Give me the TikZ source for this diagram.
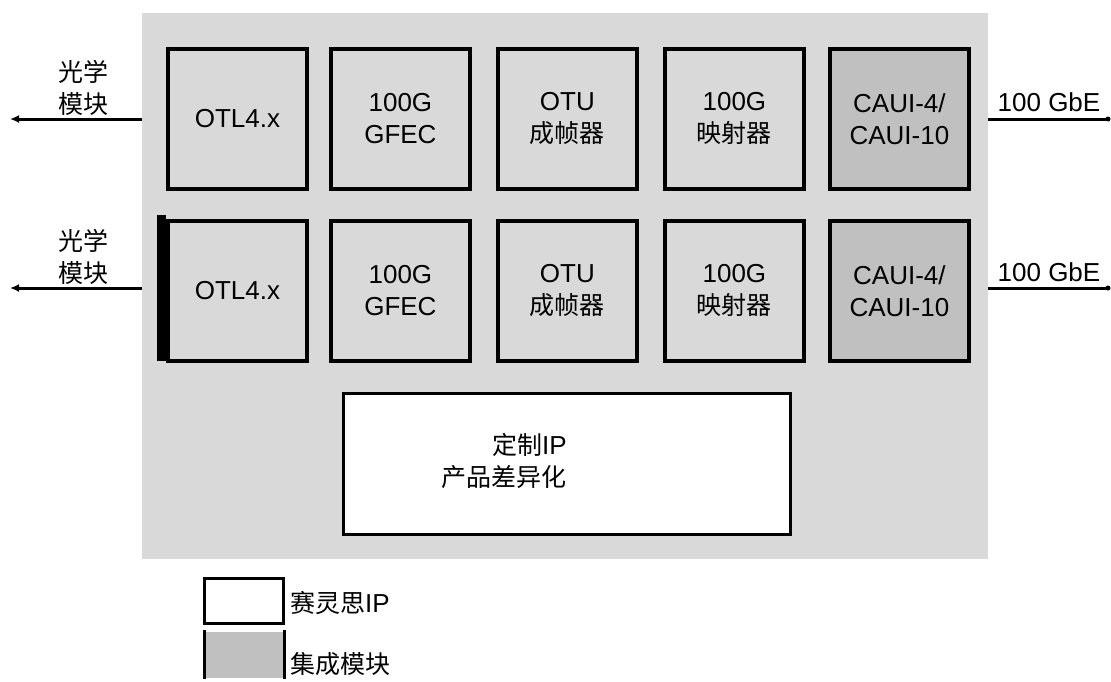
\documentclass[tikz,border=0pt]{standalone}
\usepackage{fontspec}
\setmainfont{Liberation Sans}
\newfontfamily\cjk{Noto Sans CJK SC}
\usetikzlibrary{arrows.meta}
\definecolor{bggray}{HTML}{D9D9D9}
\definecolor{ipgray}{HTML}{C0C0C0}
\tikzset{
  blk/.style={draw=black, line width=3.8pt, fill=bggray, minimum width=139pt, minimum height=140pt, inner sep=0pt, align=center, font=\fontsize{26}{32}\selectfont, anchor=north west},
  intblk/.style={blk, fill=ipgray},
  lbl/.style={font=\fontsize{26}{32}\selectfont, align=center, inner sep=0pt},
  cjklbl/.style={lbl, font=\cjk\fontsize{25}{32}\selectfont},
  link/.style={line width=3pt},
}
\begin{document}
\begin{tikzpicture}[x=1pt,y=-1pt]
\useasboundingbox (0,0) rectangle (1111,681);
\fill[bggray] (142,13) rectangle (988,559);
% row 1
\node[blk] (a1) at (166,47) {OTL4.x};
\node[blk] (b1) at (329,47) {100G\\GFEC};
\node[blk] (c1) at (496,47) {OTU\\{\cjk\fontsize{25}{32}\selectfont 成帧器}};
\node[blk] (d1) at (663,47) {100G\\{\cjk\fontsize{25}{32}\selectfont 映射器}};
\node[intblk] (e1) at (828,47) {CAUI-4/\\CAUI-10};
% row 2
\node[blk] (a2) at (166,219) {OTL4.x};
\node[blk] (b2) at (329,219) {100G\\GFEC};
\node[blk] (c2) at (496,219) {OTU\\{\cjk\fontsize{25}{32}\selectfont 成帧器}};
\node[blk] (d2) at (663,219) {100G\\{\cjk\fontsize{25}{32}\selectfont 映射器}};
\node[intblk] (e2) at (828,219) {CAUI-4/\\CAUI-10};
\fill[black] (157,215.1) rectangle (166,360.9);
% custom IP box
\node[draw=black, line width=3pt, fill=white, minimum width=447pt, minimum height=141pt, anchor=north west, inner sep=0pt] (cust) at (342,392) {};
\node[lbl, align=right, anchor=east] (custtxt) at (567,461) {{\cjk\fontsize{25}{32}\selectfont 定制}IP\\{\cjk\fontsize{25}{32}\selectfont 产品差异化}};
% left arrows and labels
\coordinate (l1s) at (142,119);
\coordinate (l1e) at (10,119);
\coordinate (l2s) at (142,288);
\coordinate (l2e) at (10,288);
\draw[link, -{Latex[length=9pt,width=8pt]}] (l1s) -- (l1e);
\draw[link, -{Latex[length=9pt,width=8pt]}] (l2s) -- (l2e);
\node[cjklbl] (opt1) at (83,88) {光学\\模块};
\node[cjklbl] (opt2) at (83,257) {光学\\模块};
% right lines
\coordinate (r1s) at (988,119);
\coordinate (r2s) at (988,288);
\coordinate (r1e) at (1108,119);
\coordinate (r2e) at (1108,288);
\draw[link] (r1s) -- (r1e);
\draw[link] (r2s) -- (r2e);
\fill (r1e) circle (2.5);
\fill (r2e) circle (2.5);
\node[lbl] (ge1) at (1049,102) {100 GbE};
\node[lbl] (ge2) at (1049,272) {100 GbE};
% legend
\node[draw=black, line width=3pt, fill=white, minimum width=79pt, minimum height=45pt, anchor=north west, inner sep=0pt] (legw) at (203,577) {};
\node[lbl, anchor=west] (legwt) at (290,603) {{\cjk\fontsize{25}{32}\selectfont 赛灵思}IP};
\fill[ipgray] (204,632) rectangle (285,678);
\draw[line width=3pt] (204.5,630) -- (204.5,679);
\draw[line width=3pt] (284.5,630) -- (284.5,679);
\node[cjklbl, anchor=west] (legit) at (290,664) {集成模块};
\end{tikzpicture}
\end{document}
